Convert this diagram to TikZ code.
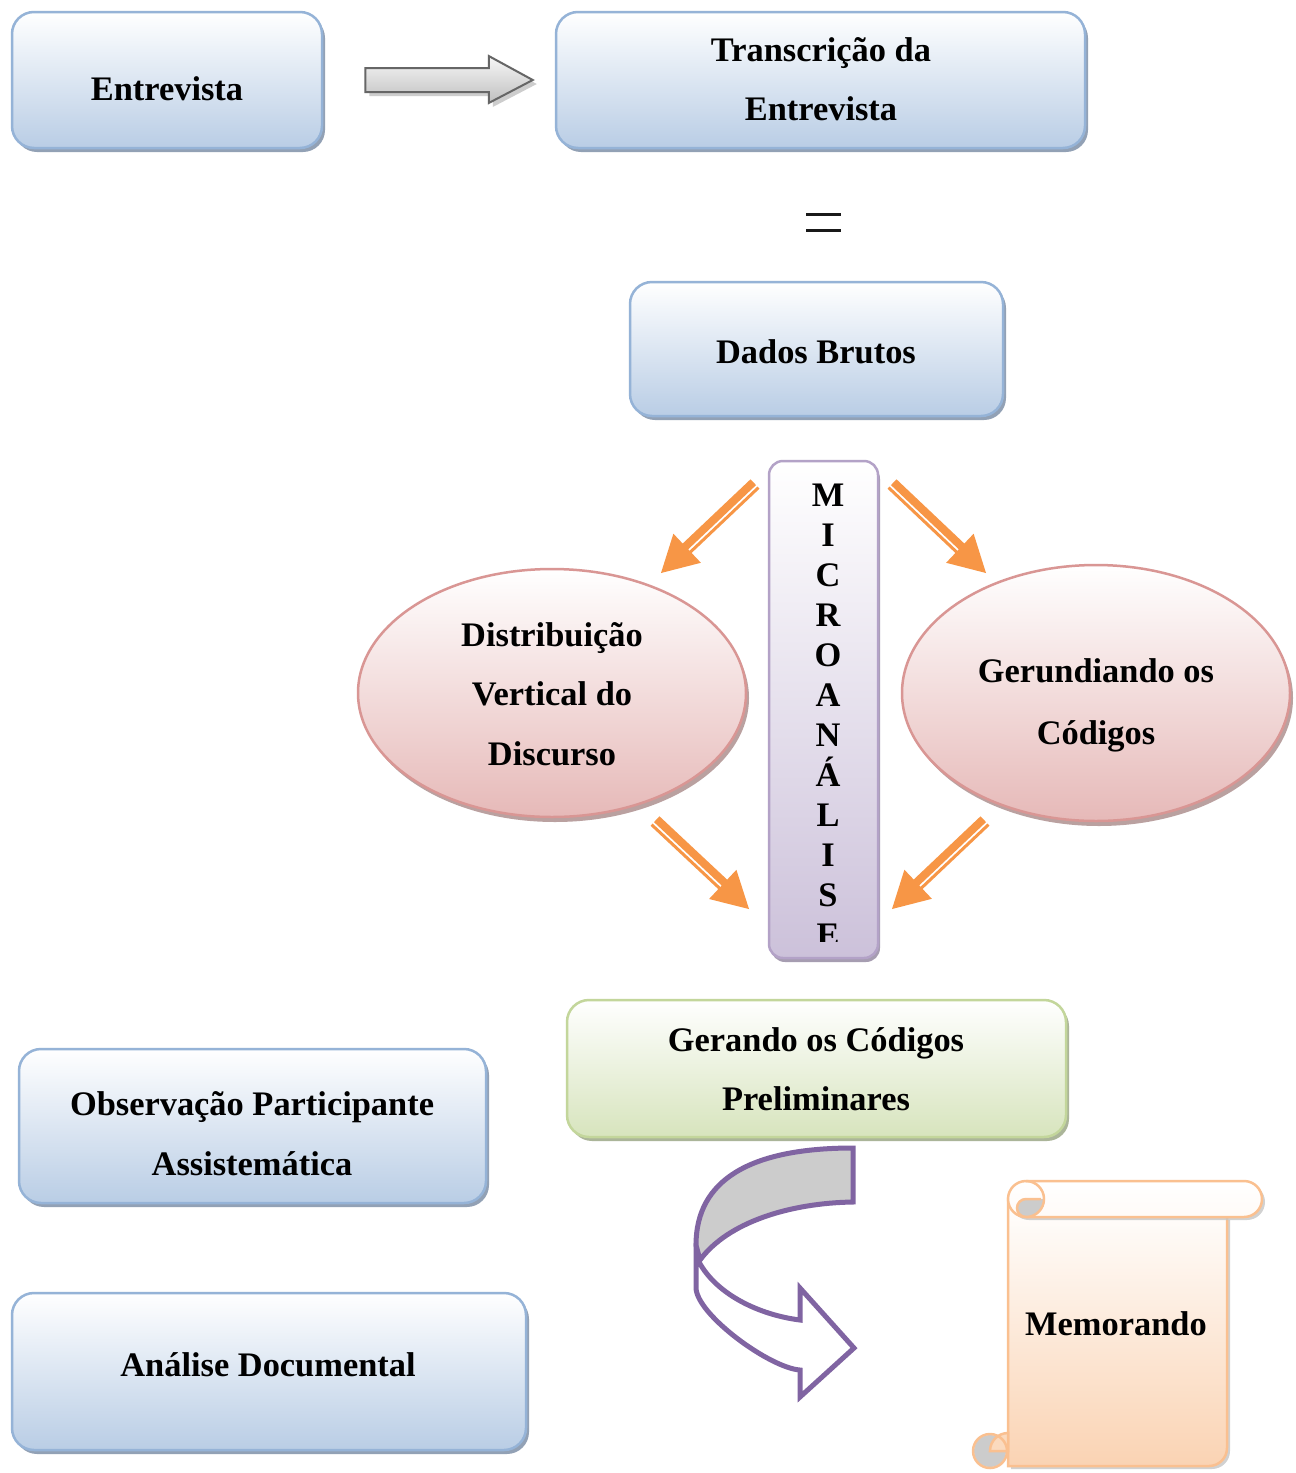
\documentclass[tikz,border=0pt]{standalone}
\usepackage{fontspec}
\setmainfont{Liberation Serif}
\usetikzlibrary{shadows,calc,shapes.geometric}

\definecolor{blueEdge}{HTML}{95B3D7}
\definecolor{blueFill}{HTML}{B9CDE5}
\definecolor{blueShadow}{HTML}{8797AD}
\definecolor{greenEdge}{HTML}{C3D69B}
\definecolor{greenFill}{HTML}{D7E4BD}
\definecolor{greenShadow}{HTML}{A2AD8E}
\definecolor{pinkEdge}{HTML}{D99694}
\definecolor{pinkFill}{HTML}{E6B9B8}
\definecolor{pinkShadow}{HTML}{B39796}
\definecolor{lilacEdge}{HTML}{B3A2C7}
\definecolor{lilacFill}{HTML}{CCC1DA}
\definecolor{lilacShadow}{HTML}{9D93A9}
\definecolor{orangeArrow}{HTML}{F79646}
\definecolor{purpleArrow}{HTML}{8064A2}
\definecolor{curlGray}{HTML}{CCCCCC}
\definecolor{scrollEdge}{HTML}{FAC090}
\definecolor{scrollFill}{HTML}{FAD3B3}
\definecolor{greyArrowEdge}{HTML}{666666}

\tikzset{
  txt/.style={font=\fontsize{34.4}{59}\selectfont\bfseries, align=center, inner sep=0pt, text=black},
  panel/.style={rounded corners=22pt, line width=2.5pt, inner sep=0pt},
  bluebox/.style={panel, draw=blueEdge, top color=white, bottom color=blueFill,
    drop shadow={shadow xshift=3pt, shadow yshift=-4pt, fill=blueShadow, opacity=0.9}},
  greenbox/.style={panel, draw=greenEdge, top color=white, bottom color=greenFill,
    drop shadow={shadow xshift=3pt, shadow yshift=-4pt, fill=greenShadow, opacity=0.9}},
  lilacbox/.style={panel, rounded corners=14pt, draw=lilacEdge, top color=white, bottom color=lilacFill,
    drop shadow={shadow xshift=2pt, shadow yshift=-4pt, fill=lilacShadow, opacity=0.9}},
  pinkoval/.style={ellipse, line width=2.5pt, inner sep=0pt, draw=pinkEdge, top color=white, bottom color=pinkFill,
    drop shadow={shadow xshift=3pt, shadow yshift=-5pt, fill=pinkShadow, opacity=0.9}},
  scrollline/.style={draw=scrollEdge, line width=2.5pt},
}

% orange arrow with a thick and a thin stripe: start, tip, angle of thin side, angle of thick side
\newcommand\stripedarrow[4]{%
  \coordinate (sa-b) at ($(#2)!36pt!(#1)$);
  \coordinate (sa-e) at ($(#2)!30pt!(#1)$);
  \draw[orangeArrow, line width=8pt] ($(#1)!2.5pt!#4:(#2)$) -- ($(sa-e)!2.5pt!#4:(#2)$);
  \draw[orangeArrow, line width=3pt] ($(#1)!5pt!#3:(#2)$) -- ($(sa-e)!5pt!#3:(#2)$);
  \fill[orangeArrow] ($(sa-b)!20pt!90:(#2)$) -- (#2) -- ($(sa-b)!20pt!270:(#2)$) -- cycle;
}

\begin{document}
\begin{tikzpicture}[x=1pt, y=-1pt]
\fill[white] (0,0) rectangle (1296,1473);
\useasboundingbox (0,0) rectangle (1296,1473);

% ---- top row ----
\node[bluebox, minimum width=310pt, minimum height=136pt] (entrevista) at (167,80) {};
\node[txt] (t-entrevista) at (167,89) {Entrevista};

\node[bluebox, minimum width=529pt, minimum height=136pt] (transc) at (820.5,80) {};
\node[txt] (t-transc) at (821,79) {Transcrição da\\Entrevista};

% grey block arrow between the two top boxes
\coordinate (ga-s) at ($(entrevista.east)+(42,0)$);
\coordinate (ga-t) at ($(transc.west)+(-22,0)$);
\draw[greyArrowEdge, line width=2pt, line join=miter, top color=gray!6, bottom color=gray!50,
      drop shadow={shadow xshift=4pt, shadow yshift=-4pt, fill=gray!55, opacity=0.7}]
  ($(ga-s)+(0,-12)$) -- ($(ga-t)+(-44,-12)$) -- ($(ga-t)+(-44,-24)$) -- (ga-t)
  -- ($(ga-t)+(-44,23)$) -- ($(ga-t)+(-44,12)$) -- ($(ga-s)+(0,12)$) -- cycle;

% equality sign
\draw[black!90, line width=3pt] (806,214) -- (841,214);
\draw[black!90, line width=3pt] (806,230) -- (841,230);

\node[bluebox, minimum width=373pt, minimum height=134pt] (dados) at (816.5,349) {};
\node[txt] (t-dados) at (816,352) {Dados Brutos};

% ---- micro-analysis column ----
\node[lilacbox, minimum width=109pt, minimum height=497pt] (micro) at (823.5,709.5) {};
\begin{scope}
  \clip (769,461) rectangle (878,941);
  \node[txt, font=\fontsize{34.4}{40}\selectfont\bfseries, anchor=north] (t-micro) at (828,483.6)
    {M\\I\\C\\R\\O\\A\\N\\Á\\L\\I\\S\\E};
\end{scope}

\node[pinkoval, minimum width=388pt, minimum height=248pt] (vertical) at (552,693) {};
\node[txt] (t-vertical) at (552,694) {Distribuição\\[0.5pt]Vertical do\\[0.5pt]Discurso};

\node[pinkoval, minimum width=388pt, minimum height=256pt] (gerundio) at (1096,693) {};
\node[txt] (t-gerundio) at (1096,705) {Gerundiando os\\[3pt]Códigos};

\coordinate (a1-s) at (755,484);  \coordinate (a1-t) at (661,573);
\coordinate (a2-s) at (892,484);  \coordinate (a2-t) at (986,573);
\coordinate (a3-s) at (655,821);  \coordinate (a3-t) at (749,909);
\coordinate (a4-s) at (985,821);  \coordinate (a4-t) at (892,909);
\stripedarrow{a1-s}{a1-t}{90}{270}
\stripedarrow{a2-s}{a2-t}{270}{90}
\stripedarrow{a3-s}{a3-t}{270}{90}
\stripedarrow{a4-s}{a4-t}{90}{270}

% ---- lower part ----
\node[greenbox, minimum width=499pt, minimum height=137pt] (gerando) at (816.5,1068.5) {};
\node[txt] (t-gerando) at (816,1069) {Gerando os Códigos\\Preliminares};

\node[bluebox, minimum width=467pt, minimum height=154pt] (observ) at (252.5,1126) {};
\node[txt] (t-observ) at (252,1134) {Observação Participante\\[1pt]Assistemática};

\node[bluebox, minimum width=514pt, minimum height=157pt] (analise) at (269,1371.5) {};
\node[txt] (t-analise) at (268,1365) {Análise Documental};

% curved (U-turn) arrow
\path[draw=purpleArrow, line width=5pt, line join=miter, fill=white]
  (699,1262) .. controls (717,1295) and (760,1315) .. (800,1320)
  -- (800,1288) -- (854,1348) -- (800,1397) -- (800,1370)
  .. controls (770,1368) and (697,1315) .. (696,1288) -- (696,1255) -- cycle;
\path[draw=purpleArrow, line width=5pt, line join=miter, fill=curlGray]
  (853,1148) -- (853,1202) .. controls (790,1203) and (728,1222) .. (700,1260)
  -- (696,1245) .. controls (696,1180) and (750,1148) .. (853,1148) -- cycle;

% scroll
\path[scrollline, top color=white, bottom color=scrollFill,
      drop shadow={shadow xshift=3pt, shadow yshift=-3pt, fill=gray!45, opacity=0.8}]
  (1008,1199) -- (1008,1466) -- (1209,1466) arc[start angle=90, end angle=0, radius=18]
  -- (1227,1217) -- cycle;
\fill[curlGray] (990,1451) circle[radius=16];
\path[fill=scrollFill!85!white, scrollline] (1008,1451) -- (990,1451)
  arc[start angle=180, end angle=270, radius=18] -- cycle;
\draw[scrollline] (990,1451) circle[radius=17];
\path[scrollline, top color=white, bottom color=white!90!scrollFill, rounded corners=18pt,
      drop shadow={shadow xshift=3pt, shadow yshift=-3pt, fill=gray!45, opacity=0.8}]
  (1008,1181) rectangle (1262,1217);
\fill[curlGray] (1026,1199) -- (1044,1199) arc[start angle=0, end angle=90, radius=18]
  arc[start angle=90, end angle=270, radius=9] -- cycle;
\draw[scrollline] (1026,1217) arc[start angle=90, end angle=270, radius=9] -- (1041,1199);
\draw[scrollline] (1026,1181) arc[start angle=270, end angle=450, radius=18];
\node[txt] (t-memo) at (1116,1324) {Memorando};

\end{tikzpicture}
\end{document}
